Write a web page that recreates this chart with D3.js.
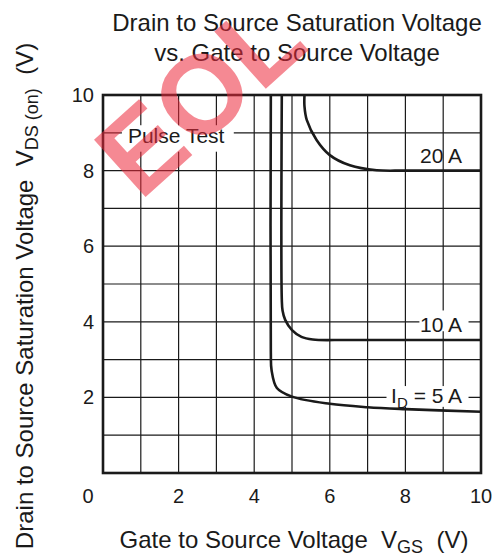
<!DOCTYPE html>
<html>
<head>
<meta charset="utf-8">
<script src="https://cdn.jsdelivr.net/npm/d3@7"></script>
<style>
  html, body { margin: 0; padding: 0; background: #fff; }
  svg { display: block; font-family: "Liberation Sans", Arial, Helvetica, sans-serif; }
</style>
</head>
<body>
<div id="chart"></div>
<script>
'use strict';

// Data: [VGS (V), VDS(on) (V)]
const curve_5A = [[4.44, 10], [4.44, 3.2], [4.46, 2.72], [4.6, 2.25], [5.0, 2.02], [6.0, 1.83], [7.0, 1.74], [8.0, 1.69], [10.0, 1.62]];
const curve_10A = [[4.73, 10], [4.73, 4.6], [4.75, 4.3], [4.82, 4.05], [5.0, 3.78], [5.25, 3.6], [5.55, 3.53], [6.5, 3.52], [10.0, 3.52]];
const curve_20A = [[5.33, 10], [5.33, 9.7], [5.39, 9.34], [5.65, 8.81], [6.0, 8.41], [6.53, 8.14], [7.24, 8.01], [8.0, 8.0], [10.0, 8.0]];
const curveLabels = ['I_D = 5 A', '10 A', '20 A'];
const xTicks = [0, 2, 4, 6, 8, 10];
const yTicks = [2, 4, 6, 8, 10];
const gridSteps = [1, 2, 3, 4, 5, 6, 7, 8, 9];

// Layout
const W = 493, H = 557;
const m = { left: 103, right: 481, top: 95, bottom: 473 };

const svg = d3.select('#chart').append('svg')
    .attr('width', W)
    .attr('height', H);

const x = d3.scaleLinear().domain([0, 10]).range([m.left, m.right]);
const y = d3.scaleLinear().domain([0, 10]).range([m.bottom, m.top]);

// grid
const grid = svg.append('g').attr('stroke', '#1a1a1a').attr('stroke-width', 1.2);
grid.selectAll('.vx').data(gridSteps).enter().append('line')
    .attr('x1', d => x(d)).attr('x2', d => x(d))
    .attr('y1', y(0)).attr('y2', y(10));
grid.selectAll('.hy').data(gridSteps).enter().append('line')
    .attr('x1', x(0)).attr('x2', x(10))
    .attr('y1', d => y(d)).attr('y2', d => y(d));

// white boxes behind some labels (they break the grid lines)
const boxes = [
    { x0: 0.5, x1: 3.46, y0: 8.5, y1: 9.2 },
    { x0: 8.37, x1: 9.67, y0: 3.75, y1: 4.3 },
    { x0: 7.5, x1: 9.67, y0: 1.75, y1: 2.3 }
];
svg.append('g').selectAll('rect').data(boxes).enter().append('rect')
    .attr('x', d => x(d.x0)).attr('width', d => x(d.x1) - x(d.x0))
    .attr('y', d => y(d.y1)).attr('height', d => y(d.y0) - y(d.y1))
    .attr('fill', '#fff');

// curves
const line = d3.line()
    .x(d => x(d[0]))
    .y(d => y(d[1]))
    .curve(d3.curveCatmullRom.alpha(0.5));

svg.append('g').selectAll('path').data([curve_5A, curve_10A, curve_20A]).enter().append('path')
    .attr('d', line)
    .attr('fill', 'none')
    .attr('stroke', '#1a1a1a')
    .attr('stroke-width', 2.6);

// frame
svg.append('rect')
    .attr('x', x(0)).attr('y', y(10))
    .attr('width', x(10) - x(0)).attr('height', y(0) - y(10))
    .attr('fill', 'none')
    .attr('stroke', '#1a1a1a')
    .attr('stroke-width', 2.6);

// tick labels
const txt = '#1a1a1a';
svg.append('g').selectAll('text').data(xTicks).enter().append('text')
    .attr('x', d => d === 0 ? x(d) - 15 : x(d))
    .attr('y', 503)
    .attr('text-anchor', 'middle')
    .attr('font-size', 20)
    .attr('fill', txt)
    .text(d => d);

svg.append('g').selectAll('text').data(yTicks).enter().append('text')
    .attr('x', 94)
    .attr('y', d => y(d) + 7)
    .attr('text-anchor', 'end')
    .attr('font-size', 20)
    .attr('fill', txt)
    .text(d => d);

// curve labels
const lab = svg.append('g').attr('font-size', 21).attr('fill', txt).attr('text-anchor', 'end');
lab.append('text').attr('x', x(9.5)).attr('y', y(8.2)).text(curveLabels[2]);
lab.append('text').attr('x', x(9.5)).attr('y', y(3.73)).text(curveLabels[1]);
const l5 = lab.append('text').attr('x', x(9.5)).attr('y', y(1.85));
l5.append('tspan').text('I');
l5.append('tspan').attr('font-size', 15).attr('dy', 5).text('D');
l5.append('tspan').attr('dy', -5).text(' = 5 A');

svg.append('text')
    .attr('x', x(0.66)).attr('y', y(8.73))
    .attr('font-size', 21).attr('fill', txt)
    .text('Pulse Test');

// title
const title = svg.append('g').attr('font-size', 24).attr('fill', txt).attr('text-anchor', 'middle');
title.append('text').attr('x', 297).attr('y', 31).text('Drain to Source Saturation Voltage');
title.append('text').attr('x', 297).attr('y', 61).text('vs. Gate to Source Voltage');

// axis titles
const xt = svg.append('text')
    .attr('x', 294).attr('y', 548)
    .attr('text-anchor', 'middle')
    .attr('font-size', 24).attr('fill', txt)
    .attr('xml:space', 'preserve');
xt.append('tspan').text('Gate to Source Voltage  V');
xt.append('tspan').attr('font-size', 18).attr('dy', 5).text('GS');
xt.append('tspan').attr('dy', -5).text('  (V)');

const yt = svg.append('text')
    .attr('transform', 'translate(33,296) rotate(-90)')
    .attr('text-anchor', 'middle')
    .attr('font-size', 24).attr('fill', txt)
    .attr('xml:space', 'preserve');
yt.append('tspan').text('Drain to Source Saturation Voltage  V');
yt.append('tspan').attr('font-size', 18).attr('dy', 5).text('DS (on)');
yt.append('tspan').attr('dy', -5).text('  (V)');

// red watermark on top
svg.append('text')
    .attr('transform', 'translate(140,202) rotate(-42)')
    .attr('font-size', 112)
    .attr('font-weight', 'bold')
    .attr('fill', '#ee2a3c')
    .attr('opacity', 0.55)
    .text('EOL');
</script>
</body>
</html>
